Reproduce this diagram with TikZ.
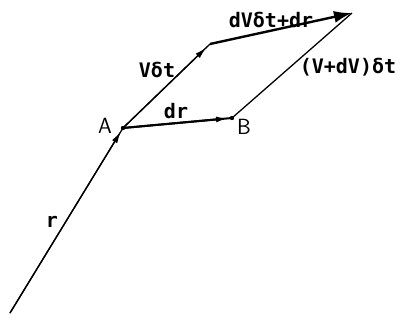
\documentclass[tikz,border=0pt]{standalone}
\usepackage{fontspec}
\setmonofont{DejaVu Sans Mono}
\usetikzlibrary{arrows.meta}
\tikzset{
  lbl/.style={font=\ttfamily\bfseries\fontsize{20}{20}\selectfont, inner sep=1pt},
  pt/.style={font=\sffamily\fontsize{22}{22}\selectfont, inner sep=1pt},
  vec/.style={line width=1.3pt},
  tiparrow/.style={-{Latex[length=12pt,width=6pt]}, shorten >=#1}
}
\begin{document}
\begin{tikzpicture}[x=1pt,y=-1pt]
  \useasboundingbox (0,0) rectangle (402,320);
  % points of the diagram
  \coordinate (O) at (10,313);
  \coordinate (A) at (123,128);
  \coordinate (B) at (232,118);
  \coordinate (C) at (210,44);
  \coordinate (D) at (352,13);

  % vectors (arrow tips sit just before the end point)
  \draw[vec, tiparrow=4pt] (O) -- (A);
  \draw[vec] (O) -- (A);
  \draw[vec, tiparrow=5pt] (A) -- (C);
  \draw[vec] (A) -- (C);
  \draw[line width=2pt, tiparrow=4pt] (A) -- (B);
  \draw[line width=2pt] (A) -- (B);
  \draw[vec] (B) -- (D);
  \draw[line width=2.4pt, -{Latex[length=18pt,width=12pt]}] (C) -- (D);
  \fill (A) circle (2.2pt) (B) circle (2.2pt);

  % labels
  \node[pt] (lA) at (105,126) {A};
  \node[pt] (lB) at (244,127) {B};
  \node[lbl] (lr) at (52,222) {r};
  \node[lbl] (lvdt) at (157,70) {Vδt};
  \node[lbl] (ldr) at (176,111) {dr};
  \node[lbl] (ltop) at (271,20) {dVδt+dr};
  \node[lbl] (lside) at (348,67) {(V+dV)δt};
\end{tikzpicture}
\end{document}
